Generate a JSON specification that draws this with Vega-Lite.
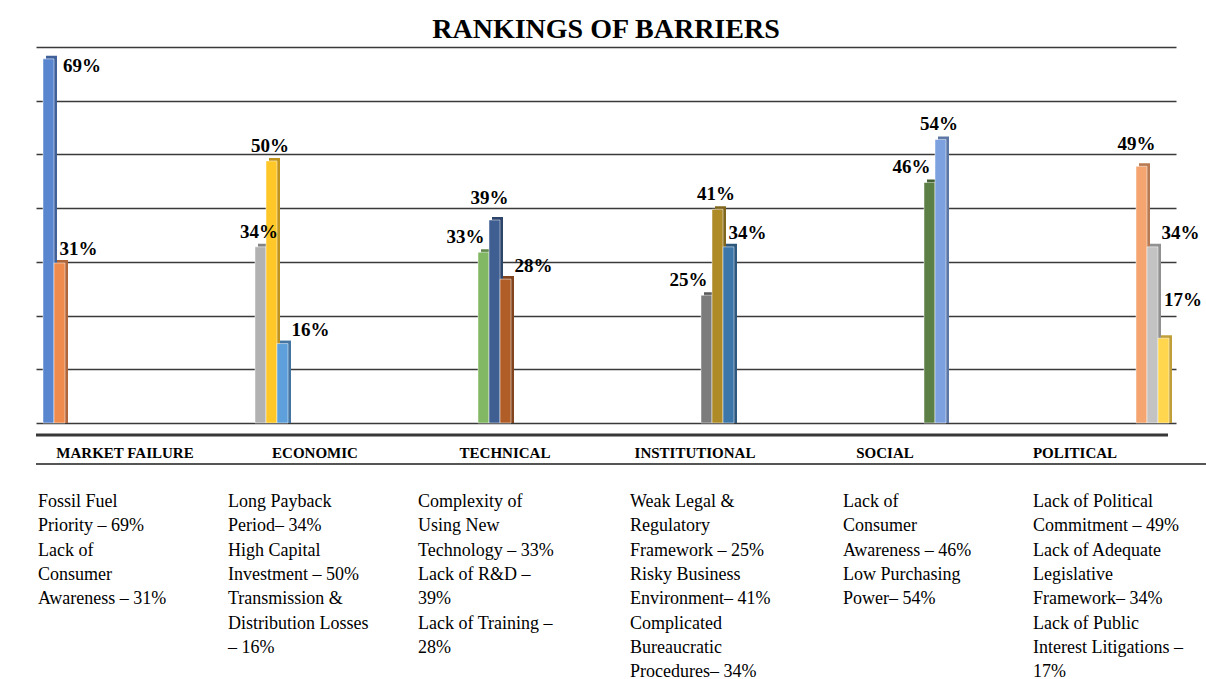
{
  "$schema": "https://vega.github.io/schema/vega-lite/v6.json",
  "width": 1140,
  "height": 376,
  "autosize": {"type": "none"},
  "padding": {"left": 36, "top": 47, "right": 30, "bottom": 256},
  "background": "white",
  "title": {"text": "RANKINGS OF BARRIERS", "font": "Liberation Serif", "fontSize": 28, "fontWeight": "bold", "color": "black", "anchor": "middle", "offset": 3},
  "config": {"view": {"stroke": null}},
  "datasets": {
    "bars": [
      {"category": "MARKET FAILURE", "series": 1, "barrier": "Fossil Fuel Priority", "value": 0.69},
      {"category": "MARKET FAILURE", "series": 2, "barrier": "Lack of Consumer Awareness", "value": 0.31},
      {"category": "ECONOMIC", "series": 3, "barrier": "Long Payback Period", "value": 0.34},
      {"category": "ECONOMIC", "series": 4, "barrier": "High Capital Investment", "value": 0.50},
      {"category": "ECONOMIC", "series": 5, "barrier": "Transmission & Distribution Losses", "value": 0.16},
      {"category": "TECHNICAL", "series": 6, "barrier": "Complexity of Using New Technology", "value": 0.33},
      {"category": "TECHNICAL", "series": 7, "barrier": "Lack of R&D", "value": 0.39},
      {"category": "TECHNICAL", "series": 8, "barrier": "Lack of Training", "value": 0.28},
      {"category": "INSTITUTIONAL", "series": 9, "barrier": "Weak Legal & Regulatory Framework", "value": 0.25},
      {"category": "INSTITUTIONAL", "series": 10, "barrier": "Risky Business Environment", "value": 0.41},
      {"category": "INSTITUTIONAL", "series": 11, "barrier": "Complicated Bureaucratic Procedures", "value": 0.34},
      {"category": "SOCIAL", "series": 12, "barrier": "Lack of Consumer Awareness", "value": 0.46},
      {"category": "SOCIAL", "series": 13, "barrier": "Low Purchasing Power", "value": 0.54},
      {"category": "POLITICAL", "series": 14, "barrier": "Lack of Political Commitment", "value": 0.49},
      {"category": "POLITICAL", "series": 15, "barrier": "Lack of Adequate Legislative Framework", "value": 0.34},
      {"category": "POLITICAL", "series": 16, "barrier": "Lack of Public Interest Litigations", "value": 0.17}
    ],
    "notes": [
      {"category": "MARKET FAILURE", "note": "Fossil Fuel|Priority – 69%|Lack of|Consumer|Awareness – 31%"},
      {"category": "ECONOMIC", "note": "Long Payback|Period– 34%|High Capital|Investment – 50%|Transmission &|Distribution Losses|– 16%"},
      {"category": "TECHNICAL", "note": "Complexity of|Using New|Technology – 33%|Lack of R&D –|39%|Lack of Training –|28%"},
      {"category": "INSTITUTIONAL", "note": "Weak Legal &|Regulatory|Framework – 25%|Risky Business|Environment– 41%|Complicated|Bureaucratic|Procedures– 34%"},
      {"category": "SOCIAL", "note": "Lack of|Consumer|Awareness – 46%|Low Purchasing|Power– 54%"},
      {"category": "POLITICAL", "note": "Lack of Political|Commitment – 49%|Lack of Adequate|Legislative|Framework– 34%|Lack of Public|Interest Litigations –|17%"}
    ]
  },
  "layer": [
    {
      "data": {"name": "bars"},
      "encoding": {
        "x": {"field": "category", "type": "nominal", "sort": null, "scale": {"type": "band", "paddingInner": 0, "paddingOuter": 0},
          "axis": {"title": null, "orient": "bottom", "labelFont": "Liberation Serif", "labelFontSize": 15, "labelFontWeight": "bold", "labelColor": "black", "labelAngle": 0, "labelBaseline": "top", "labelPadding": 22, "labelOffset": -6, "ticks": false, "domain": false, "grid": false, "labelOverlap": false, "labelLimit": 0}},
        "y": {"field": "value", "type": "quantitative", "stack": null, "scale": {"domain": [0, 0.7], "nice": false},
          "axis": {"title": null, "orient": "left", "values": [0, 0.1, 0.2, 0.3, 0.4, 0.5, 0.6, 0.7], "grid": true, "gridColor": "#3a3a3a", "gridWidth": 1.5, "labels": false, "ticks": false, "domain": false}}
      },
      "layer": [
        {
          "mark": {"type": "bar", "yOffset": 3.5, "y2Offset": 2.5},
          "encoding": {
            "xOffset": {"field": "series", "type": "ordinal", "scale": {"type": "band", "paddingInner": 0, "paddingOuter": 0.636, "align": 0.714}},
            "color": {"field": "series", "type": "ordinal", "legend": null,
              "scale": {"range": ["#40609A", "#B0653A", "#848484", "#C0941C", "#4576A3", "#5F884A", "#2D446B", "#82441D", "#5A5A5A", "#80661D", "#2D577D", "#425E33", "#5C77A6", "#B87A52", "#919191", "#C09F38"]}}
          }
        },
        {
          "encoding": {
            "xOffset": {"field": "series", "type": "ordinal", "scale": {"type": "band", "paddingInner": 0, "paddingOuter": 0.636}}
          },
          "layer": [
            {
              "mark": {"type": "bar", "yOffset": 6.5, "y2Offset": 5.5, "stroke": "white", "strokeWidth": 0.7, "strokeOpacity": 0.7},
              "encoding": {
                "color": {"field": "series", "type": "ordinal", "legend": null,
                  "scale": {"range": ["#5A86D0", "#EE8B4D", "#B2B2B2", "#FFC727", "#5EA0DB", "#82B764", "#3F5E92", "#B15D28", "#7C7C7C", "#AE8B27", "#3D76A9", "#5B7F45", "#7DA1DE", "#F4A570", "#C3C3C3", "#FFD64D"]}}
              }
            },
            {
              "transform": [{"filter": "indexof([3, 4, 10, 13], datum.series) >= 0"}],
              "mark": {"type": "text", "font": "Liberation Serif", "fontSize": 19, "fontWeight": "bold", "fill": "black", "baseline": "middle", "align": "center", "dx": -1.5, "dy": -8.5},
              "encoding": {"text": {"field": "value", "type": "quantitative", "format": ".0%"}}
            },
            {
              "transform": [{"filter": "indexof([7, 14], datum.series) >= 0"}],
              "mark": {"type": "text", "font": "Liberation Serif", "fontSize": 19, "fontWeight": "bold", "fill": "black", "baseline": "middle", "align": "center", "dx": -5, "dy": -16},
              "encoding": {"text": {"field": "value", "type": "quantitative", "format": ".0%"}}
            },
            {
              "transform": [{"filter": "indexof([2, 11], datum.series) >= 0"}],
              "mark": {"type": "text", "font": "Liberation Serif", "fontSize": 19, "fontWeight": "bold", "fill": "black", "baseline": "middle", "align": "left", "dx": 0, "dy": -7.3},
              "encoding": {"text": {"field": "value", "type": "quantitative", "format": ".0%"}}
            },
            {
              "transform": [{"filter": "indexof([5, 8, 15], datum.series) >= 0"}],
              "mark": {"type": "text", "font": "Liberation Serif", "fontSize": 19, "fontWeight": "bold", "fill": "black", "baseline": "middle", "align": "left", "dx": 9, "dy": -7},
              "encoding": {"text": {"field": "value", "type": "quantitative", "format": ".0%"}}
            },
            {
              "transform": [{"filter": "indexof([6, 9, 12], datum.series) >= 0"}],
              "mark": {"type": "text", "font": "Liberation Serif", "fontSize": 19, "fontWeight": "bold", "fill": "black", "baseline": "middle", "align": "right", "dx": 1, "dy": -8.5},
              "encoding": {"text": {"field": "value", "type": "quantitative", "format": ".0%"}}
            },
            {
              "transform": [{"filter": "datum.series == 1"}],
              "mark": {"type": "text", "font": "Liberation Serif", "fontSize": 19, "fontWeight": "bold", "fill": "black", "baseline": "middle", "align": "left", "dx": 14.5, "dy": 14},
              "encoding": {"text": {"field": "value", "type": "quantitative", "format": ".0%"}}
            },
            {
              "transform": [{"filter": "datum.series == 16"}],
              "mark": {"type": "text", "font": "Liberation Serif", "fontSize": 19, "fontWeight": "bold", "fill": "black", "baseline": "middle", "align": "left", "dx": 0.5, "dy": -32},
              "encoding": {"text": {"field": "value", "type": "quantitative", "format": ".0%"}}
            }
          ]
        }
      ],
      "resolve": {"scale": {"xOffset": "independent", "color": "independent"}}
    },
    {
      "data": {"name": "bars"},
      "transform": [{"aggregate": [{"op": "count", "as": "n"}]}],
      "mark": {"type": "rule", "color": "#383838", "strokeWidth": 3.2, "yOffset": 12, "xOffset": -8},
      "encoding": {
        "y": {"datum": 0, "type": "quantitative", "scale": {"domain": [0, 0.7], "nice": false},
          "axis": {"title": null, "orient": "left", "values": [0, 0.1, 0.2, 0.3, 0.4, 0.5, 0.6, 0.7], "grid": true, "gridColor": "#3a3a3a", "gridWidth": 1.5, "labels": false, "ticks": false, "domain": false}}
      }
    },
    {
      "data": {"name": "bars"},
      "transform": [{"aggregate": [{"op": "count", "as": "n"}]}],
      "mark": {"type": "rule", "color": "#555555", "strokeWidth": 1.8, "yOffset": 41, "xOffset": 30},
      "encoding": {
        "y": {"datum": 0, "type": "quantitative", "scale": {"domain": [0, 0.7], "nice": false},
          "axis": {"title": null, "orient": "left", "values": [0, 0.1, 0.2, 0.3, 0.4, 0.5, 0.6, 0.7], "grid": true, "gridColor": "#3a3a3a", "gridWidth": 1.5, "labels": false, "ticks": false, "domain": false}}
      }
    },
    {
      "data": {"name": "notes"},
      "mark": {"type": "text", "opacity": 0},
      "encoding": {
        "x": {"field": "note", "type": "nominal", "sort": null, "scale": {"type": "band", "paddingInner": 0, "paddingOuter": 0},
          "axis": {"title": null, "orient": "bottom", "offset": 41, "domain": false, "ticks": false, "grid": false, "labelFont": "Liberation Serif", "labelFontSize": 18, "labelColor": "black", "labelAngle": 0, "labelAlign": "left", "labelBaseline": "top", "labelLineHeight": 24.3, "labelPadding": 28.5, "labelLimit": 0, "labelOverlap": false,
            "labelOffset": {"condition": [{"test": "indexof(datum.value, 'Weak') === 0", "value": -71}, {"test": "indexof(datum.value, 'Lack of') === 0", "value": -48}], "value": -93},
            "labelExpr": "split(datum.label, '|')"}},
        "text": {"value": ""}
      }
    }
  ],
  "resolve": {"scale": {"x": "independent"}, "axis": {"x": "independent"}}
}
